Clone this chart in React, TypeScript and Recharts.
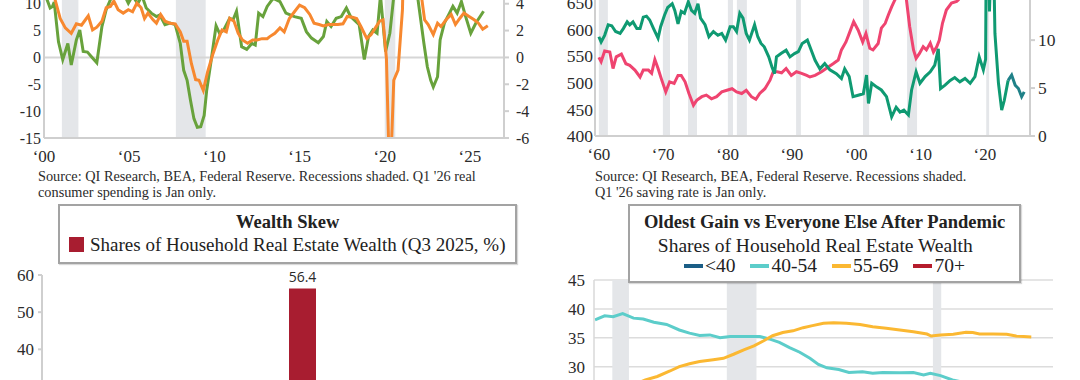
import React from 'react';
import {
  LineChart, Line, BarChart, Bar, XAxis, YAxis, ReferenceArea, ReferenceLine,
  CartesianGrid, Legend, LabelList,
} from 'recharts';

const SERIF = '"Liberation Serif", "Times New Roman", serif';
const SANS = '"Open Sans", "Liberation Sans", sans-serif';
const AXIS_GRAY = '#cfcfcf';
const SHADE = '#e4e6e9';
const TEXT = '#2b2b2b';

// ---------- Panel 1 (top left) ----------
const p1YearTicks = [2000, 2005, 2010, 2015, 2020, 2025];
const p1LeftTicks = [-15, -10, -5, 0, 5, 10];
const p1RightTicks = [-6, -4, -2, 0, 2, 4];
const p1Recessions: [number, number][] = [[2001.05, 2002.02], [2007.74, 2009.49], [2020.0, 2020.62]];
const householdWealthYoY: [number, number][] = [
  [2000.15, 11.0], [2000.36, 9.2], [2000.5, 9.5], [2000.6, 10.3], [2000.85, 2.9], [2001.1, -0.4],
  [2001.4, 2.6], [2001.6, -1.4], [2001.9, 3.25], [2002.1, 5.1], [2002.3, 1.1], [2002.55, 1.0],
  [2002.8, 0.1], [2003.1, -1.0], [2003.4, 5.75], [2003.65, 8.9], [2003.9, 10.75], [2004.2, 12.5],
  [2004.5, 13.0], [2004.95, 10.1], [2005.2, 11.5], [2005.5, 10.0], [2005.75, 11.5], [2006.0, 9.2],
  [2006.3, 8.25], [2006.6, 7.6], [2006.8, 7.9], [2007.1, 6.1], [2007.4, 6.4], [2007.7, 6.1],
  [2008.0, 2.6], [2008.2, -2.4], [2008.4, -4.25], [2008.6, -8.0], [2008.8, -11.4], [2009.0, -13.0],
  [2009.2, -12.9], [2009.4, -10.8], [2009.55, -6.1], [2009.8, -0.8], [2010.1, 5.9], [2010.3, 4.5],
  [2010.55, 5.1], [2010.9, 7.3], [2011.1, 7.0], [2011.3, 8.6], [2011.6, 2.0], [2011.9, 1.5],
  [2012.2, 2.6], [2012.4, 2.3], [2012.6, 8.25], [2012.85, 7.6], [2013.1, 9.5], [2013.45, 11.0],
  [2013.85, 10.4], [2014.2, 8.25], [2014.7, 7.6], [2015.1, 7.3], [2015.4, 4.8], [2015.7, 3.6],
  [2016.1, 2.75], [2016.4, 3.9], [2016.6, 6.7], [2016.85, 5.75], [2017.15, 7.3], [2017.45, 7.6],
  [2017.75, 9.2], [2018.0, 7.6], [2018.3, 6.7], [2018.5, 6.1], [2018.8, -0.4], [2019.05, 3.9],
  [2019.3, 5.1], [2019.55, 4.5], [2019.75, 11.5], [2020.05, 1.1], [2020.3, 4.5], [2020.55, 12.0],
  [2020.8, 16.0], [2021.2, 20.0], [2021.6, 18.0], [2021.9, 12.0], [2022.3, 2.6], [2022.5, -1.75],
  [2022.7, -4.25], [2022.85, -5.5], [2023.1, -3.6], [2023.25, 3.25], [2023.5, 6.4], [2023.8, 8.25],
  [2024.0, 9.5], [2024.25, 8.25], [2024.5, 10.4], [2024.75, 7.6], [2025.05, 4.5], [2025.35, 6.4],
  [2025.8, 8.6],
];
const realSpendingYoY: [number, number][] = [
  [2000.1, 5.6], [2000.4, 5.2], [2000.65, 4.3], [2000.95, 2.9], [2001.25, 2.2], [2001.6, 1.8],
  [2001.9, 2.5], [2002.2, 2.4], [2002.4, 2.75], [2002.6, 3.1], [2002.85, 2.05], [2003.1, 2.25],
  [2003.4, 2.7], [2003.65, 3.7], [2003.9, 3.8], [2004.1, 4.2], [2004.35, 3.55], [2004.65, 3.3],
  [2004.95, 3.55], [2005.2, 3.4], [2005.45, 4.05], [2005.7, 3.7], [2005.9, 2.9], [2006.1, 3.3],
  [2006.4, 2.8], [2006.6, 2.55], [2006.85, 3.2], [2007.1, 2.7], [2007.4, 2.55], [2007.7, 2.5],
  [2008.0, 1.9], [2008.2, 1.2], [2008.4, 1.2], [2008.65, -0.45], [2008.9, -1.65], [2009.1, -1.7],
  [2009.35, -2.45], [2009.6, -1.1], [2009.9, 0.2], [2010.2, 1.3], [2010.45, 2.05], [2010.7, 1.9],
  [2010.9, 2.9], [2011.15, 2.7], [2011.4, 1.8], [2011.65, 1.3], [2011.95, 1.05], [2012.25, 1.3],
  [2012.5, 1.3], [2012.8, 1.4], [2013.1, 1.4], [2013.25, 1.55], [2013.55, 1.8], [2013.85, 2.2],
  [2014.1, 1.9], [2014.4, 2.9], [2014.7, 3.4], [2015.0, 3.9], [2015.3, 3.7], [2015.6, 3.2],
  [2015.85, 2.55], [2016.15, 2.45], [2016.4, 2.35], [2016.7, 2.45], [2016.95, 2.45], [2017.25, 2.45],
  [2017.55, 2.5], [2017.8, 3.05], [2018.1, 3.0], [2018.35, 2.9], [2018.6, 2.3], [2018.95, 1.4],
  [2019.2, 1.7], [2019.45, 2.2], [2019.7, 2.7], [2019.9, 2.8], [2020.1, -0.1], [2020.3, -10.0],
  [2020.53, -1.7], [2020.78, -0.95], [2021.04, 3.55], [2021.25, 16.0], [2021.5, 7.5], [2021.8, 5.0],
  [2022.15, 4.6], [2022.34, 2.8], [2022.55, 2.45], [2022.85, 1.7], [2023.1, 2.55], [2023.3, 2.3],
  [2023.6, 2.8], [2023.9, 3.2], [2024.15, 2.45], [2024.4, 2.9], [2024.65, 3.3], [2024.95, 3.05],
  [2025.25, 2.8], [2025.5, 2.55], [2025.75, 2.1], [2026.05, 2.35],
];

// ---------- Panel 2 (top right) ----------
const p2YearTicks = [1960, 1970, 1980, 1990, 2000, 2010, 2020];
const p2LeftTicks = [400, 450, 500, 550, 600, 650];
const p2RightTicks = [0, 5, 10];
const p2Recessions: [number, number][] = [
  [1960.0, 1961.4], [1969.95, 1971.05], [1973.85, 1975.25], [1980.05, 1980.85], [1981.45, 1983.0],
  [1990.65, 1991.4], [2001.05, 2002.0], [2007.9, 2009.45], [2020.2, 2020.65],
];
const netWorthToIncome: [number, number][] = [
  [1960.0, 548], [1960.35, 540], [1960.9, 560], [1961.7, 558], [1962.2, 527], [1962.7, 549],
  [1963.5, 554], [1964.2, 536], [1964.8, 533], [1965.6, 524], [1966.4, 511], [1966.9, 524],
  [1967.7, 524], [1968.2, 518], [1968.7, 544], [1969.2, 527], [1969.7, 508], [1970.4, 483],
  [1971.0, 502], [1971.7, 499], [1972.3, 514], [1972.8, 514], [1973.4, 502], [1974.0, 480],
  [1974.7, 458], [1975.2, 467], [1976.0, 474], [1976.7, 477], [1977.5, 470], [1978.3, 474],
  [1979.1, 483], [1979.9, 486], [1980.7, 489], [1981.4, 483], [1982.2, 480], [1982.9, 486],
  [1983.7, 474], [1984.4, 469], [1985.0, 480], [1985.8, 489], [1986.6, 505], [1987.1, 521],
  [1987.7, 521], [1988.4, 519], [1989.1, 527], [1989.9, 514], [1990.7, 521], [1991.5, 518],
  [1992.3, 514], [1992.8, 511], [1993.6, 514], [1994.6, 521], [1995.65, 530], [1996.4, 536],
  [1997.2, 543], [1997.7, 562], [1998.4, 577], [1999.0, 596], [1999.6, 615], [2000.3, 599],
  [2001.0, 577], [2001.5, 593], [2002.1, 565], [2002.6, 562], [2003.4, 574], [2003.9, 603],
  [2004.5, 612], [2005.0, 628], [2005.5, 643], [2006.0, 656], [2006.6, 668], [2007.2, 672],
  [2007.8, 656], [2008.3, 606], [2008.9, 562], [2009.3, 546], [2009.8, 555], [2010.4, 568],
  [2010.9, 562], [2011.5, 575], [2012.0, 558], [2012.5, 568], [2012.9, 580], [2013.4, 612],
  [2014.0, 637], [2014.8, 650], [2015.6, 653], [2015.85, 656], [2016.5, 665], [2017.5, 685],
  [2018.5, 680], [2019.5, 700], [2020.5, 740], [2021.5, 790], [2022.5, 750], [2023.5, 760],
  [2024.5, 775], [2025.5, 785],
];
const savingRate: [number, number][] = [
  [1960.0, 10.35], [1960.35, 9.8], [1960.9, 10.5], [1961.45, 11.6], [1962.0, 11.5], [1962.6, 10.9],
  [1963.3, 10.7], [1963.8, 11.2], [1964.4, 11.9], [1964.8, 11.6], [1965.3, 11.9], [1965.9, 11.2],
  [1966.4, 11.2], [1966.9, 12.4], [1967.4, 12.5], [1967.9, 12.1], [1968.5, 11.2], [1969.2, 10.2],
  [1969.6, 11.4], [1970.2, 12.6], [1970.7, 13.4], [1971.4, 13.8], [1971.8, 13.1], [1972.3, 11.7],
  [1972.8, 13.0], [1973.3, 12.8], [1973.9, 14.0], [1974.4, 13.1], [1974.9, 12.8], [1975.4, 13.8],
  [1975.8, 12.3], [1976.5, 11.6], [1977.1, 10.35], [1977.8, 10.9], [1978.5, 10.5], [1979.1, 10.7],
  [1979.7, 10.0], [1980.4, 11.4], [1980.9, 11.4], [1981.4, 10.9], [1981.9, 12.8], [1982.4, 12.3],
  [1982.9, 10.7], [1983.4, 10.0], [1984.2, 11.6], [1984.7, 10.35], [1985.2, 9.65], [1985.7, 9.3],
  [1986.4, 8.25], [1986.9, 7.2], [1987.3, 6.5], [1987.6, 8.25], [1988.3, 8.6], [1989.1, 8.95],
  [1989.7, 8.25], [1990.4, 8.6], [1991.0, 8.8], [1991.6, 9.65], [1992.4, 10.0], [1992.8, 9.3],
  [1993.6, 7.9], [1994.35, 7.0], [1995.1, 7.55], [1995.9, 6.9], [1996.9, 6.5], [1997.7, 6.0],
  [1998.2, 7.0], [1998.9, 6.2], [1999.5, 4.1], [2000.3, 4.25], [2001.1, 4.4], [2001.6, 6.35],
  [2001.9, 3.4], [2002.4, 5.5], [2003.2, 5.1], [2003.9, 4.8], [2004.7, 4.1], [2005.5, 2.0],
  [2006.2, 3.0], [2006.8, 2.5], [2007.4, 2.7], [2008.1, 2.2], [2008.6, 4.8], [2009.3, 6.7],
  [2009.9, 5.5], [2010.7, 6.2], [2011.5, 6.7], [2012.2, 7.4], [2012.75, 9.1], [2013.1, 4.95],
  [2013.8, 5.3], [2014.6, 5.8], [2015.3, 6.1], [2016.1, 5.65], [2016.9, 6.0], [2017.7, 5.5],
  [2018.45, 6.2], [2019.1, 8.25], [2019.75, 6.9], [2020.1, 8.0], [2020.3, 31.0], [2020.7, 13.0],
  [2021.2, 24.0], [2021.55, 10.7], [2022.1, 5.5], [2022.6, 2.7], [2023.0, 3.7], [2023.6, 5.8],
];
const savingRateRecent: [number, number][] = [
  [2023.6, 5.8], [2024.15, 6.35], [2024.7, 5.3], [2025.2, 4.95], [2025.7, 4.1], [2026.1, 4.6],
];

// ---------- Panel 3 (bottom left) ----------
const ageGroups = ['Under 40', '40-54', '55 and Over', '70 and Over'];
const realEstateShares = [17.6, 26.0, 56.4, 21.2];
const p3Ticks = [30, 40, 50, 60];

// ---------- Panel 4 (bottom right) ----------
const p4Ticks = [30, 35, 40, 45];
const p4LegendOrder = ['<40', '40-54', '55-69', '70+'];
const p4Recessions: [number, number][] = [[2001.15, 2002.13], [2007.9, 2009.65], [2020.05, 2020.54]];
const shareUnder40: [number, number][] = [
  [2000.1, 20.4], [2005.0, 21.5], [2010.0, 17.0], [2015.0, 16.0], [2020.0, 17.5], [2025.75, 17.6],
];
const share40to54: [number, number][] = [
  [2000.13, 38.1], [2000.7, 38.8], [2001.2, 38.65], [2001.76, 39.2], [2002.4, 38.4], [2002.97, 38.25],
  [2003.6, 37.7], [2004.35, 37.3], [2005.1, 36.35], [2005.7, 35.8], [2006.3, 35.4], [2006.9, 35.5],
  [2007.5, 35.0], [2008.1, 35.2], [2008.7, 35.2], [2009.3, 35.2], [2009.85, 35.2], [2010.4, 34.8],
  [2011.0, 34.2], [2011.6, 33.3], [2012.2, 32.5], [2012.8, 31.45], [2013.3, 30.4], [2013.8, 29.8],
  [2014.5, 29.5], [2015.1, 29.0], [2015.9, 29.1], [2016.5, 28.85], [2017.1, 29.0], [2018.1, 28.95],
  [2018.9, 29.0], [2019.5, 28.55], [2019.9, 28.85], [2020.5, 28.45], [2021.2, 27.7], [2022.0, 27.2],
  [2023.0, 26.7], [2024.0, 26.3], [2025.75, 26.0],
];
const share55to69: [number, number][] = [
  [2000.13, 25.4], [2001.0, 25.9], [2002.0, 26.6], [2002.6, 27.1], [2003.1, 27.7], [2003.8, 28.3],
  [2004.55, 29.25], [2005.1, 30.0], [2005.7, 30.5], [2006.3, 30.9], [2007.1, 31.2], [2007.7, 31.45],
  [2008.3, 32.15], [2008.9, 32.9], [2009.5, 33.6], [2010.05, 34.45], [2010.6, 35.35], [2011.2, 35.9],
  [2011.8, 36.2], [2012.4, 36.75], [2012.95, 37.1], [2013.6, 37.5], [2014.2, 37.6], [2014.95, 37.5],
  [2015.75, 37.3], [2016.5, 36.9], [2017.3, 36.65], [2018.1, 36.35], [2018.9, 36.05], [2019.7, 35.65],
  [2019.95, 35.3], [2020.5, 35.5], [2021.25, 35.6], [2022.0, 35.95], [2022.4, 35.9], [2022.8, 35.65],
  [2023.6, 35.65], [2024.4, 35.6], [2024.95, 35.3], [2025.85, 35.15],
];
const share70plus: [number, number][] = [
  [2000.1, 16.0], [2005.0, 14.5], [2010.0, 13.5], [2015.0, 15.5], [2020.0, 17.0], [2025.75, 21.2],
];

const pts = (arr: [number, number][]) => arr.map(([x, v]) => ({ x, v }));
const yearFmt = (y: number) => '\u2018' + String(y).slice(2);
const barData = ageGroups.map((g, i) => ({ group: g, value: realEstateShares[i] }));

const tickStyle = (size: number) => ({ fontFamily: SERIF, fontSize: size, fill: TEXT });

const boxStyle: React.CSSProperties = {
  width: '100%', height: '100%', boxSizing: 'border-box', border: '2px solid #a3a3a3',
  boxShadow: '1px 1px 1px rgba(0,0,0,0.15)', background: '#fff', position: 'relative',
  fontFamily: SERIF, color: '#222',
};

const WealthLegend = (props: any) => {
  const item = (props.payload || [])[0] || {};
  return (
    <div style={boxStyle}>
      <div style={{ position: 'absolute', top: 4.4, left: 0, right: 0, textAlign: 'center', fontWeight: 700, fontSize: 18.5, lineHeight: '22px' }}>
        Wealth Skew
      </div>
      <div style={{ position: 'absolute', top: 27.7, left: 8.7, display: 'flex', alignItems: 'center', height: 22, whiteSpace: 'nowrap' }}>
        <span style={{ display: 'inline-block', width: 15, height: 15, background: item.color }} />
        <span style={{ marginLeft: 6, fontSize: 19, lineHeight: '22px' }}>{item.value}</span>
      </div>
    </div>
  );
};

const AgeLegend = (props: any) => {
  const items = [...(props.payload || [])].sort(
    (a: any, b: any) => p4LegendOrder.indexOf(a.value) - p4LegendOrder.indexOf(b.value),
  );
  return (
    <div style={boxStyle}>
      <div style={{ position: 'absolute', top: 4.4, left: 0, right: 0, textAlign: 'center', fontWeight: 700, fontSize: 18.5, lineHeight: '22px', whiteSpace: 'nowrap' }}>
        Oldest Gain vs Everyone Else After Pandemic
      </div>
      <div style={{ position: 'absolute', top: 28.4, left: 0, width: 370, textAlign: 'center', fontSize: 19.5, lineHeight: '22px', whiteSpace: 'nowrap' }}>
        Shares of Household Real Estate Wealth
      </div>
      <div style={{ position: 'absolute', top: 48.7, left: 53.7, display: 'flex', alignItems: 'center', height: 22, whiteSpace: 'nowrap' }}>
        {items.map((it: any) => (
          <span key={it.value} style={{ display: 'flex', alignItems: 'center', marginRight: 15 }}>
            <span style={{ display: 'inline-block', width: 19, height: 4, background: it.color }} />
            <span style={{ marginLeft: 2, fontSize: 19.5, lineHeight: '22px' }}>{it.value}</span>
          </span>
        ))}
      </div>
    </div>
  );
};

const srcStyle: React.CSSProperties = {
  position: 'absolute', fontFamily: SERIF, fontSize: 14.3, lineHeight: '15.5px', color: TEXT, whiteSpace: 'nowrap',
};

export default function App() {
  return (
    <div style={{ position: 'absolute', left: 0, top: 0, width: 1080, height: 380, overflow: 'hidden', background: '#fff' }}>
      {/* Panel 1 */}
      <div style={{ position: 'absolute', left: 0, top: -70 }}>
        <LineChart width={540} height={238} margin={{ top: 20, right: 0, bottom: 0, left: 0 }}>
          <XAxis dataKey="x" type="number" domain={[2000, 2027]} ticks={p1YearTicks} tickFormatter={yearFmt} interval={0}
            height={30} axisLine={{ stroke: AXIS_GRAY, strokeWidth: 2 }} tickLine={false} tickSize={0} tickMargin={12}
            tick={tickStyle(17)} allowDataOverflow />
          <YAxis yAxisId="left" domain={[-15, 20]} ticks={p1LeftTicks} interval={0} width={44} allowDataOverflow
            axisLine={{ stroke: AXIS_GRAY, strokeWidth: 2 }} tickLine={false} tickSize={0} tickMargin={3} tick={tickStyle(16)} />
          <YAxis yAxisId="right" orientation="right" domain={[-6, 8]} ticks={p1RightTicks} interval={0} width={36} allowDataOverflow
            axisLine={{ stroke: AXIS_GRAY, strokeWidth: 2 }} tickLine={{ stroke: AXIS_GRAY, strokeWidth: 2 }} tickSize={5} tickMargin={7} tick={tickStyle(16)} />
          {p1Recessions.map(([a, b]) => (
            <ReferenceArea key={a} yAxisId="left" x1={a} x2={b} fill={SHADE} fillOpacity={1} stroke="none" />
          ))}
          <ReferenceLine yAxisId="left" y={0} stroke="#d6d6d6" strokeWidth={2} />
          <Line yAxisId="left" data={pts(householdWealthYoY)} dataKey="v" name="Household wealth (y/y %)" type="linear"
            stroke="#68a23c" strokeWidth={3} dot={false} isAnimationActive={false} />
          <Line yAxisId="right" data={pts(realSpendingYoY)} dataKey="v" name="Real consumer spending (y/y %)" type="linear"
            stroke="#f7882f" strokeWidth={3} dot={false} isAnimationActive={false} />
        </LineChart>
      </div>
      <div style={{ ...srcStyle, left: 38, top: 169 }}>
        Source: QI Research, BEA, Federal Reserve. Recessions shaded. Q1 '26 real<br />consumer spending is Jan only.
      </div>

      {/* Panel 2 */}
      <div style={{ position: 'absolute', left: 540, top: -70 }}>
        <LineChart width={540} height={236} margin={{ top: 20, right: 0, bottom: 0, left: 0 }}>
          <XAxis dataKey="x" type="number" domain={[1959.4, 2027]} ticks={p2YearTicks} tickFormatter={yearFmt} interval={0}
            height={30} axisLine={{ stroke: AXIS_GRAY, strokeWidth: 2 }} tickLine={false} tickSize={0} tickMargin={12}
            tick={tickStyle(17)} allowDataOverflow />
          <YAxis yAxisId="left" domain={[400, 750]} ticks={p2LeftTicks} interval={0} width={55} allowDataOverflow
            axisLine={{ stroke: AXIS_GRAY, strokeWidth: 2 }} tickLine={false} tickSize={0} tickMargin={2} tick={tickStyle(17.5)} />
          <YAxis yAxisId="right" orientation="right" domain={[0, 19.4]} ticks={p2RightTicks} interval={0} width={50} allowDataOverflow
            axisLine={{ stroke: AXIS_GRAY, strokeWidth: 2 }} tickLine={{ stroke: AXIS_GRAY, strokeWidth: 2 }} tickSize={5} tickMargin={3} tick={tickStyle(17.5)} />
          {p2Recessions.map(([a, b]) => (
            <ReferenceArea key={a} yAxisId="left" x1={a} x2={b} fill={SHADE} fillOpacity={1} stroke="none" />
          ))}
          <Line yAxisId="left" data={pts(netWorthToIncome)} dataKey="v" name="Net worth (% of disposable income)" type="linear"
            stroke="#ef4470" strokeWidth={3} dot={false} isAnimationActive={false} />
          <Line yAxisId="right" data={pts(savingRate)} dataKey="v" name="Personal saving rate (%)" type="linear"
            stroke="#0f9a72" strokeWidth={3} dot={false} isAnimationActive={false} />
          <Line yAxisId="right" data={pts(savingRateRecent)} dataKey="v" name="Personal saving rate, recent (%)" type="linear"
            stroke="#1f8188" strokeWidth={3} dot={false} isAnimationActive={false} />
        </LineChart>
      </div>
      <div style={{ ...srcStyle, left: 595, top: 169 }}>
        Source: QI Research, BEA, Federal Reserve. Recessions shaded.<br />Q1 '26 saving rate is Jan only.
      </div>

      {/* Panel 3 */}
      <div style={{ position: 'absolute', left: 0, top: 200 }}>
        <BarChart width={540} height={328} data={barData} margin={{ top: 75, right: 82, bottom: 0, left: 0 }}>
          <XAxis dataKey="group" height={30} axisLine={{ stroke: AXIS_GRAY }} tickLine={false} tick={false} />
          <YAxis domain={[0, 60]} ticks={p3Ticks} interval={0} width={42} axisLine={{ stroke: AXIS_GRAY, strokeWidth: 2 }}
            tickLine={{ stroke: AXIS_GRAY, strokeWidth: 2 }} tickSize={4} tickMargin={4} tick={tickStyle(17)} />
          <Legend layout="horizontal" verticalAlign="middle" align="center" content={WealthLegend}
            wrapperStyle={{ left: 58.3, top: 4.3, width: 458.7, height: 59.7 }} />
          <Bar dataKey="value" name="Shares of Household Real Estate Wealth (Q3 2025, %)" fill="#a81d30" barSize={27} isAnimationActive={false}>
            <LabelList dataKey="value" position="top" offset={6} style={{ fontFamily: SANS, fontSize: 14, fill: '#2a2a2a' }} />
          </Bar>
        </BarChart>
      </div>

      {/* Panel 4 */}
      <div style={{ position: 'absolute', left: 540, top: 200 }}>
        <LineChart width={540} height={370} margin={{ top: 80, right: 27, bottom: 0, left: 0 }}>
          <CartesianGrid vertical={false} stroke="#dcdcdc" strokeWidth={1.5} />
          <XAxis dataKey="x" type="number" domain={[2000.07, 2027.13]} ticks={[2000, 2005, 2010, 2015, 2020, 2025]}
            height={30} axisLine={{ stroke: AXIS_GRAY }} tickLine={false} tick={false} allowDataOverflow />
          <YAxis domain={[0, 45]} ticks={p4Ticks} interval={0} width={54} axisLine={{ stroke: '#d8d8d8', strokeWidth: 1.5 }}
            tickLine={false} tickSize={0} tickMargin={9} tick={tickStyle(17)} />
          {p4Recessions.map(([a, b]) => (
            <ReferenceArea key={a} x1={a} x2={b} fill={SHADE} fillOpacity={1} stroke="none" />
          ))}
          <Legend layout="horizontal" verticalAlign="middle" align="center" content={AgeLegend}
            wrapperStyle={{ left: 88.3, top: 4.3, width: 392.7, height: 79 }} />
          <Line data={pts(shareUnder40)} dataKey="v" name="<40" stroke="#1b5e86" strokeWidth={3} dot={false} isAnimationActive={false} />
          <Line data={pts(share40to54)} dataKey="v" name="40-54" stroke="#5ccdca" strokeWidth={3} dot={false} isAnimationActive={false} />
          <Line data={pts(share55to69)} dataKey="v" name="55-69" stroke="#fbb832" strokeWidth={3} dot={false} isAnimationActive={false} />
          <Line data={pts(share70plus)} dataKey="v" name="70+" stroke="#b51c2c" strokeWidth={3} dot={false} isAnimationActive={false} />
        </LineChart>
      </div>
    </div>
  );
}
